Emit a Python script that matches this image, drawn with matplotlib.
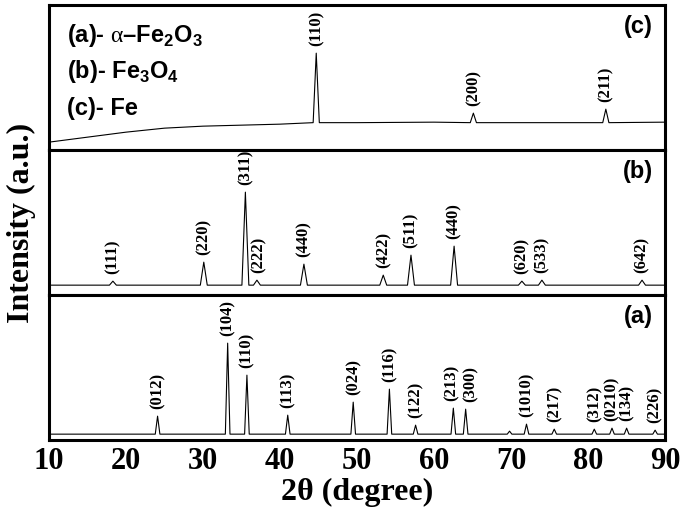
import numpy as np
import matplotlib
matplotlib.use('Agg')
from matplotlib import pyplot as plt

plt.rcParams['mathtext.fontset'] = 'custom'
plt.rcParams['mathtext.rm'] = 'Liberation Serif'
plt.rcParams['mathtext.bf'] = 'Liberation Sans:bold'

# (a) alpha-Fe2O3 : peak positions, intensities (a.u.), hkl labels
pos_a = [24.1, 33.2, 35.7, 41.0, 49.5, 54.2, 57.6, 62.5, 64.1, 69.8, 72.0, 75.6, 80.8, 83.1, 85.0, 88.7]
int_a = [24, 97, 65, 25, 38, 51, 15, 32, 31, 9, 16, 11, 11, 12, 12, 10]
hkl_a = ['(012)', '(104)', '(110)', '(113)', '(024)', '(116)', '(122)', '(213)', '(300)', '',
         '(1010)', '(217)', '(312)', '(0210)', '(134)', '(226)']
base_a = 6

# (b) Fe3O4
pos_b = [18.3, 30.1, 35.5, 37.0, 43.1, 53.4, 57.0, 62.6, 71.4, 74.0, 87.0]
int_b = [14, 33, 103, 15, 31, 20, 40, 49, 14, 15, 15]
hkl_b = ['(111)', '(220)', '(311)', '(222)', '(440)', '(422)', '(511)', '(440)', '(620)', '(533)', '(642)']
base_b = 10

# (c) Fe, with a rising background at low angle
pos_c = [44.7, 65.1, 82.3]
int_c = [97, 37, 41]
hkl_c = ['(110)', '(200)', '(211)']
bg_x_c = [10, 15, 20, 25, 30, 35, 40, 50, 60, 90]
bg_y_c = [8, 13, 18, 22, 24, 25, 26, 27.5, 28, 28]
base_c = 27.5

xticks = [10, 20, 30, 40, 50, 60, 70, 80, 90]
legend_lines = [r'(a)- $\mathrm{\alpha}$–Fe$_\mathbf{2}$O$_\mathbf{3}$',
                r'(b)- Fe$_\mathbf{3}$O$_\mathbf{4}$',
                '(c)- Fe']

# sideways nudges (points) for crowded labels
nudge = {'(213)': -1.5, '(300)': 3.5, '(222)': 1.5}


def trace(pos, inten, base, hw, bx=None, by=None):
    # baseline knots + a triangle for every peak
    pts = []
    if bx is None:
        bx, by = [10, 90], [base, base]
    pts += list(zip(bx, by))
    for p, h in zip(pos, inten):
        pts += [(p - hw, base), (p, h), (p + hw, base)]
    pts.sort()
    x, y = zip(*pts)
    return np.array(x), np.array(y)


serif = 'Liberation Serif'
sans = 'Liberation Sans'

fig = plt.figure(figsize=(6.85, 5.16), dpi=100)
gs = fig.add_gridspec(3, 1, hspace=0, left=0.0715, right=0.971, bottom=0.147, top=0.990)
ax_c = fig.add_subplot(gs[0])
ax_b = fig.add_subplot(gs[1], sharex=ax_c)
ax_a = fig.add_subplot(gs[2], sharex=ax_c)

panels = [
    (ax_c, trace(pos_c, int_c, base_c, 0.4, bg_x_c, bg_y_c), pos_c, int_c, hkl_c, '(c)'),
    (ax_b, trace(pos_b, int_b, base_b, 0.45), pos_b, int_b, hkl_b, '(b)'),
    (ax_a, trace(pos_a, int_a, base_a, 0.3), pos_a, int_a, hkl_a, '(a)'),
]

for ax, (x, y), pos, inten, hkl, tag in panels:
    ax.plot(x, y, color='black', lw=0.8)
    for p, h, lab in zip(pos, inten, hkl):
        if lab:
            dx = nudge.get(lab, 0) if ax is ax_a or lab == '(222)' else 0
            ax.annotate(lab, (p, h), xytext=(dx, 5), textcoords='offset points',
                        rotation=90, ha='center', va='bottom',
                        fontfamily=serif, fontweight='bold', fontsize=12)
    ax.text(0.98, 0.85, tag, transform=ax.transAxes, ha='right', va='center',
            fontfamily=sans, fontweight='bold', fontsize=17)
    ax.set_ylim(0, 145)
    ax.set_xlim(10, 90)
    ax.set_yticks([])
    for s in ax.spines.values():
        s.set_linewidth(2.2)
    ax.tick_params(axis='x', length=0, pad=5, labelsize=22)

for ax in (ax_c, ax_b):
    ax.tick_params(axis='x', labelbottom=False)

ax_a.set_xticks(xticks)
for lbl in ax_a.get_xticklabels():
    lbl.set_fontfamily(serif)
    lbl.set_fontweight('bold')
ax_a.set_xlabel('2θ (degree)', fontfamily=serif, fontweight='bold', fontsize=23, labelpad=1)

fig.text(0.032, 0.568, 'Intensity (a.u.)', rotation=90, ha='center', va='center',
         fontfamily=serif, fontweight='bold', fontsize=23)

for i, t in enumerate(legend_lines):
    ax_c.text(0.03, 0.79 - i * 0.25, t, transform=ax_c.transAxes, ha='left', va='center',
              fontfamily=sans, fontweight='bold', fontsize=17)

fig.savefig('out.png', dpi=100)
